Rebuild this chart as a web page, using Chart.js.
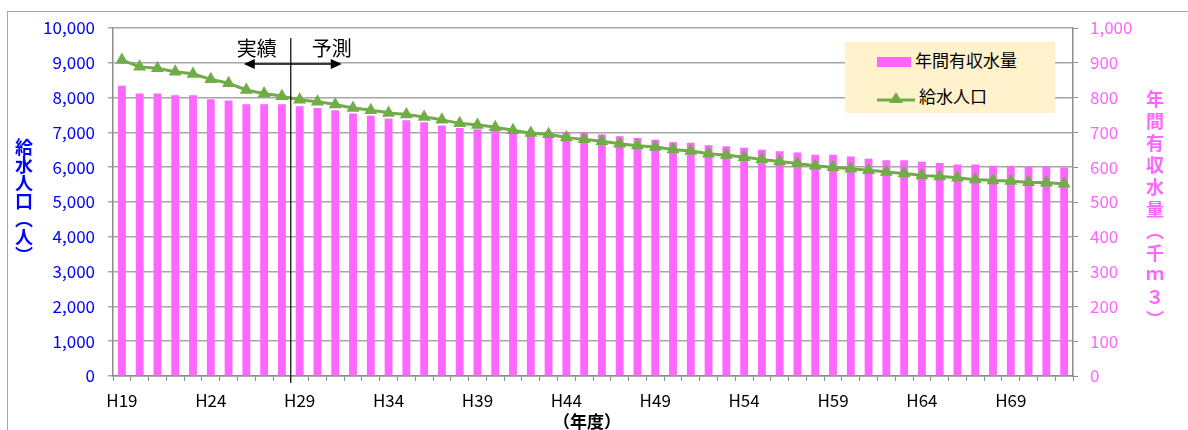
<!DOCTYPE html>
<html>
<head>
<meta charset="utf-8">
<script src="https://cdn.jsdelivr.net/npm/chart.js@4.4.1/dist/chart.umd.min.js"></script>
<style>
  body { margin: 0; background: #fff; }
  #wrap { position: relative; width: 1188px; height: 430px; overflow: hidden; font-family: "Noto Sans CJK JP", "Noto Sans", sans-serif; }
  #frame { position: absolute; left: 7px; top: 11px; width: 1300px; height: 500px; border: 1px solid #a6a6a6; }
  canvas { position: absolute; left: 0; top: 0; }
  .vtitle { position: absolute; writing-mode: vertical-rl; font-weight: bold; font-size: 18px; line-height: 20px; }
  #ttlLeft { left: 14px; top: 138px; color: #0000ff; }
  #ttlRight { left: 1145px; top: 90px; color: #ff66ff; letter-spacing: 4px; }
  #ttlX { position: absolute; left: 553px; top: 408px; font-size: 17px; font-weight: bold; color: #000; }
  #legend { position: absolute; left: 845px; top: 42px; width: 210px; height: 71px; background: #fff2cc; }
  .item { position: absolute; left: 32px; height: 20px; font-size: 17px; line-height: 20px; color: #000; white-space: nowrap; }
  .item span { display: inline-block; vertical-align: middle; margin-right: 4px; }
  .swatch { width: 34px; height: 10px; background: #ff66ff; }
</style>
</head>
<body>
<div id="wrap">
  <div id="frame"></div>
  <canvas id="waterChart" width="1188" height="430"></canvas>
  <div id="ttlLeft" class="vtitle">給水人口（人）</div>
  <div id="ttlRight" class="vtitle">年間有収水量（千ｍ３）</div>
  <div id="ttlX">（年度）</div>
  <div id="legend">
    <div class="item" style="top:8px"><span class="swatch"></span>年間有収水量</div>
    <div class="item" style="top:44px"><span><svg width="38" height="14"><line x1="0" y1="9" x2="38" y2="9" stroke="#70ad47" stroke-width="3"/><polygon points="19,1 26,12 12,12" fill="#70ad47"/></svg></span>給水人口</div>
  </div>
</div>
<script>
// 年度
const years = ['H19','H20','H21','H22','H23','H24','H25','H26','H27','H28',
    'H29','H30','H31','H32','H33','H34','H35','H36','H37','H38',
    'H39','H40','H41','H42','H43','H44','H45','H46','H47','H48',
    'H49','H50','H51','H52','H53','H54','H55','H56','H57','H58',
    'H59','H60','H61','H62','H63','H64','H65','H66','H67','H68',
    'H69','H70','H71','H72'];

// 給水人口（人）
const population = [9080, 8890, 8840, 8745, 8680, 8525, 8410, 8220, 8120, 8040,
    7940, 7880, 7800, 7700, 7640, 7560, 7515, 7445, 7360, 7260,
    7215, 7150, 7060, 6980, 6945, 6850, 6800, 6748, 6675, 6620,
    6580, 6510, 6465, 6390, 6350, 6285, 6225, 6165, 6110, 6040,
    5995, 5955, 5915, 5860, 5820, 5765, 5735, 5695, 5645, 5620,
    5600, 5570, 5550, 5525];

// 年間有収水量（千m3）
const waterVolume = [834, 812, 812, 807, 807, 795, 792, 781, 781, 781,
    775, 770, 764, 754, 748, 740, 735, 729, 720, 713,
    709, 706, 704, 703, 702, 701, 700, 694, 689, 684,
    679, 672, 670, 663, 660, 656, 650, 646, 642, 636,
    636, 631, 624, 620, 620, 616, 612, 608, 608, 604,
    604, 601, 601, 599];

// 実績 / 予測 の境目（H29 から予測）
const forecastStart = 'H29';

const AXIS_GRAY = '#8c8c8c';
const FONT = '"Noto Sans CJK JP", "Noto Sans", sans-serif';

// 実績・予測の区切り線と矢印
const splitPlugin = {
    id: 'splitLine',
    afterDatasetsDraw(chart) {
        const { ctx, chartArea } = chart;
        const x = chart.scales.x;
        const i = years.indexOf(forecastStart);
        const px = (x.getPixelForValue(i - 1) + x.getPixelForValue(i)) / 2;
        const ay = chartArea.top + 36;

        ctx.save();
        ctx.strokeStyle = '#000';
        ctx.fillStyle = '#000';
        ctx.lineWidth = 1.2;
        ctx.beginPath();
        ctx.moveTo(px, chartArea.top + 10);
        ctx.lineTo(px, chartArea.bottom + 7);
        ctx.stroke();

        // 矢印
        ctx.lineWidth = 1.5;
        ctx.beginPath();
        ctx.moveTo(px - 38, ay);
        ctx.lineTo(px + 42, ay);
        ctx.stroke();
        ctx.beginPath();
        ctx.moveTo(px - 47, ay);
        ctx.lineTo(px - 36, ay - 5);
        ctx.lineTo(px - 36, ay + 5);
        ctx.closePath();
        ctx.fill();
        ctx.beginPath();
        ctx.moveTo(px + 51, ay);
        ctx.lineTo(px + 40, ay - 5);
        ctx.lineTo(px + 40, ay + 5);
        ctx.closePath();
        ctx.fill();

        ctx.font = '20px ' + FONT;
        ctx.textAlign = 'center';
        ctx.textBaseline = 'middle';
        ctx.fillText('実績', px - 34, chartArea.top + 20);
        ctx.fillText('予測', px + 41, chartArea.top + 20);
        ctx.restore();
    }
};

let ctx = document.getElementById('waterChart').getContext('2d');

let waterChart = new Chart(ctx, {
    type: 'bar',
    data: {
        labels: years,
        datasets: [
            {
                type: 'line',
                label: '給水人口',
                data: population,
                yAxisID: 'y',
                borderColor: '#70ad47',
                backgroundColor: '#70ad47',
                borderWidth: 3,
                tension: 0.2,
                pointStyle: 'triangle',
                pointRadius: 7.5,
                pointBorderWidth: 0,
                pointBackgroundColor: '#70ad47'
            },
            {
                type: 'bar',
                label: '年間有収水量',
                data: waterVolume,
                yAxisID: 'y1',
                backgroundColor: '#ff66ff',
                borderWidth: 0,
                categoryPercentage: 1,
                barPercentage: 0.44
            }
        ]
    },
    options: {
        responsive: false,
        animation: false,
        maintainAspectRatio: false,
        layout: { padding: { top: 28, left: 0, right: 0, bottom: 0 } },
        plugins: {
            legend: { display: false },
            tooltip: { enabled: false }
        },
        scales: {
            x: {
                offset: true,
                afterFit: s => { s.height = 54; },
                grid: { offset: true, drawOnChartArea: false, tickLength: 5, color: AXIS_GRAY, lineWidth: 1 },
                border: { color: AXIS_GRAY, width: 1.5 },
                ticks: {
                    autoSkip: false,
                    maxRotation: 0,
                    padding: 9,
                    color: '#000',
                    font: { family: FONT, size: 17 },
                    callback: function (v, i) { return i % 5 === 0 ? years[i] : ''; }
                }
            },
            y: {
                position: 'left',
                min: 0,
                max: 10000,
                afterFit: s => { s.width = 113; },
                grid: { color: '#a6a6a6', lineWidth: 1.5, tickLength: 5 },
                border: { color: AXIS_GRAY, width: 1.5 },
                ticks: {
                    stepSize: 1000,
                    padding: 13,
                    color: '#0000ff',
                    font: { family: FONT, size: 17 },
                    callback: v => v.toLocaleString('en-US')
                }
            },
            y1: {
                position: 'right',
                min: 0,
                max: 1000,
                afterFit: s => { s.width = 115; },
                grid: { drawOnChartArea: false, color: AXIS_GRAY, tickLength: 5 },
                border: { color: AXIS_GRAY, width: 1.5 },
                ticks: {
                    stepSize: 100,
                    padding: 12,
                    color: '#ff66ff',
                    font: { family: FONT, size: 17 },
                    callback: v => v.toLocaleString('en-US')
                }
            }
        }
    },
    plugins: [splitPlugin]
});
</script>
</body>
</html>
